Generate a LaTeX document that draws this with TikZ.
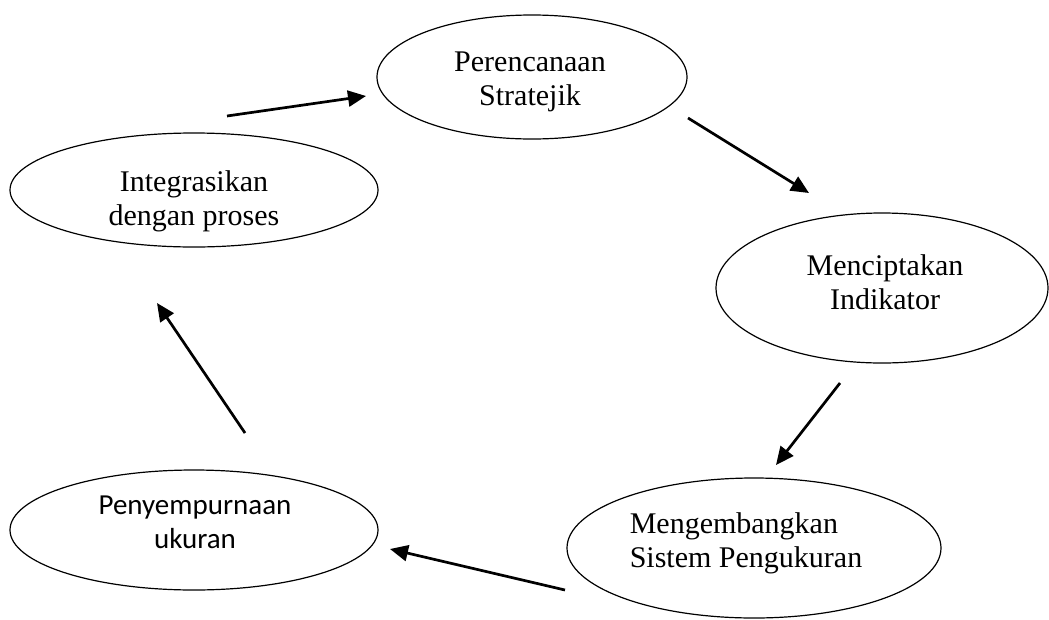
\documentclass[tikz,border=0pt]{standalone}
\usepackage{fontspec}
\setmainfont{Liberation Serif}
\newfontfamily\calfont{Carlito}
\usetikzlibrary{shapes.geometric,arrows.meta}

\tikzset{
    tahap/.style={draw, ellipse, line width=1.2pt, inner sep=0pt},
    teks/.style={inner sep=0pt, align=center, font=\fontsize{30}{34}\selectfont},
    panah/.style={-{Triangle[length=18pt,width=16pt]}, line width=2.7pt}
}

\begin{document}
\begin{tikzpicture}[x=1pt,y=-1pt]
		\useasboundingbox (0,0) rectangle (1049,619);

		% Tahapan siklus
		\node[tahap, minimum width=310, minimum height=124] (strat) at (532,77) {};
		\node[tahap, minimum width=332, minimum height=150] (indik) at (882,288) {};
		\node[tahap, minimum width=374, minimum height=140] (kembang) at (754,548) {};
		\node[tahap, minimum width=368, minimum height=120] (sempurna) at (194,530) {};
		\node[tahap, minimum width=368, minimum height=114] (integ) at (194,190) {};

		% Teks di dalam elips
		\node[teks] (strat-t) at (530,82) {Perencanaan\\Stratejik};
		\node[teks] (indik-t) at (885,282) {Menciptakan\\Indikator};
		\node[teks, align=left] (kembang-t) at (746,543) {Mengembangkan\\Sistem Pengukuran};
		\node[teks, font=\calfont\fontsize{29}{34}\selectfont] (sempurna-t) at (195,522) {Penyempurnaan\\ukuran};
		\node[teks] (integ-t) at (194,201) {Integrasikan\\dengan proses};

		% Ujung panah
		\coordinate (a1) at (227,116);  \coordinate (b1) at (366,96);
		\coordinate (a2) at (688,118);  \coordinate (b2) at (809,193);
		\coordinate (a3) at (840,383);  \coordinate (b3) at (776,465);
		\coordinate (a4) at (565,590);  \coordinate (b4) at (390,549);
		\coordinate (a5) at (245,433);  \coordinate (b5) at (157,303);

		% Panah antar tahapan
		\draw[panah] (a1) -- (b1);
		\draw[panah] (a2) -- (b2);
		\draw[panah] (a3) -- (b3);
		\draw[panah] (a4) -- (b4);
		\draw[panah] (a5) -- (b5);
	\end{tikzpicture}
\end{document}
